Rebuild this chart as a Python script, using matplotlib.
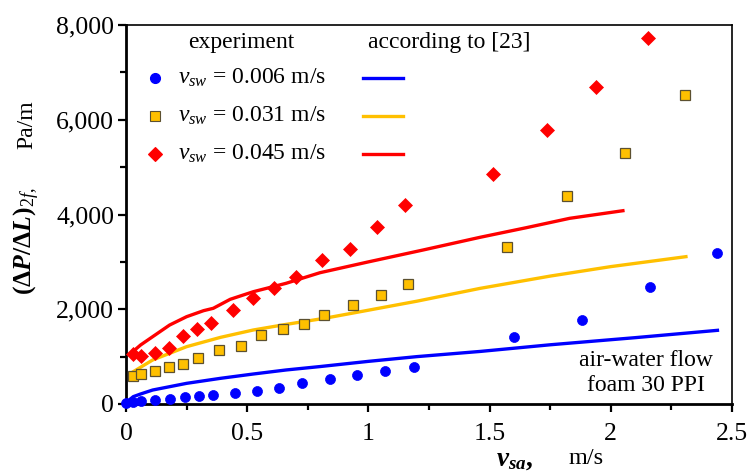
import matplotlib
matplotlib.use("Agg")
import matplotlib.pyplot as plt
from matplotlib.ticker import MultipleLocator, FuncFormatter

plt.rcParams['font.family'] = ['Liberation Serif', 'DejaVu Serif']
plt.rcParams['mathtext.fontset'] = 'custom'
plt.rcParams['mathtext.rm'] = 'Liberation Serif'
plt.rcParams['mathtext.it'] = 'Liberation Serif:italic'
plt.rcParams['mathtext.bf'] = 'Liberation Serif:bold'
plt.rcParams['mathtext.bfit'] = 'Liberation Serif:bold:italic'

# Experimental data: superficial air velocity (m/s) vs. pressure gradient (Pa/m)
exp_v_006 = [0.0, 0.03, 0.06, 0.12, 0.18, 0.245, 0.30, 0.36, 0.45, 0.54, 0.63, 0.725,
             0.84, 0.955, 1.07, 1.19, 1.60, 1.88, 2.16, 2.44]
exp_p_006 = [27, 49, 70, 84, 98, 141, 169, 190, 225, 267, 330, 443,
             528, 612, 703, 788, 1407, 1773, 2469, 3187]

exp_v_031 = [0.03, 0.06, 0.118, 0.177, 0.236, 0.296, 0.382, 0.473, 0.557, 0.646, 0.733,
             0.818, 0.935, 1.052, 1.165, 1.57, 1.82, 2.057, 2.305]
exp_p_031 = [598, 633, 703, 774, 851, 964, 1146, 1231, 1463, 1589, 1688,
             1885, 2089, 2307, 2539, 3307, 4390, 5304, 6522]

exp_v_045 = [0.03, 0.06, 0.118, 0.177, 0.236, 0.293, 0.351, 0.44, 0.525, 0.61, 0.70,
             0.81, 0.924, 1.035, 1.15, 1.513, 1.737, 1.94, 2.155]
exp_p_045 = [1055, 1013, 1083, 1189, 1435, 1583, 1717, 1984, 2230, 2455, 2687,
             3039, 3265, 3736, 4200, 4854, 5790, 6697, 7731]

# Model predictions according to [23]
mod_v_006 = [0.0, 0.03, 0.06, 0.11, 0.25, 0.39, 0.525, 0.66, 0.80, 1.0, 1.2, 1.46, 1.75, 2.1, 2.44]
mod_p_006 = [30, 155, 211, 295, 436, 542, 633, 718, 790, 900, 1000, 1109, 1250, 1400, 1555]

mod_v_031 = [0.03, 0.11, 0.25, 0.39, 0.525, 0.66, 0.82, 1.0, 1.2, 1.46, 1.75, 2.0, 2.31]
mod_p_031 = [682, 929, 1210, 1407, 1562, 1680, 1810, 1980, 2170, 2440, 2700, 2900, 3110]

mod_v_045 = [0.02, 0.06, 0.11, 0.18, 0.25, 0.32, 0.36, 0.43, 0.525, 0.66, 0.80, 1.0,
             1.225, 1.46, 1.65, 1.83, 2.05]
mod_p_045 = [1069, 1245, 1421, 1667, 1843, 1970, 2020, 2210, 2370, 2547, 2771, 3000,
             3250, 3518, 3720, 3919, 4080]

series_labels = ['0.006', '0.031', '0.045']

BLUE = '#0000ff'
GOLD = '#ffc000'
RED = '#ff0000'

fig = plt.figure(figsize=(7.49, 4.72), dpi=100)
ax = fig.add_axes([126 / 749, 68 / 472, 606 / 749, 379 / 472])

lw = 2.4
ax.plot(mod_v_006, mod_p_006, color=BLUE, lw=lw, zorder=2)
ax.plot(mod_v_031, mod_p_031, color=GOLD, lw=lw, zorder=2)
ax.plot(mod_v_045, mod_p_045, color=RED, lw=lw, zorder=2)

ax.plot(exp_v_006, exp_p_006, 'o', color=BLUE, ms=7.2, mec=BLUE, mew=0.5, zorder=3,
        clip_on=False)
ax.plot(exp_v_031, exp_p_031, 's', color=GOLD, ms=7, mec='#5c5030', mew=0.9, zorder=3)
ax.plot(exp_v_045, exp_p_045, 'D', color=RED, ms=7, mec=RED, mew=0.5, zorder=3)

ax.set_xlim(0, 2.5)
ax.set_ylim(0, 8000)
ax.xaxis.set_major_locator(MultipleLocator(0.5))
ax.xaxis.set_minor_locator(MultipleLocator(0.25))
ax.yaxis.set_major_locator(MultipleLocator(2000))
ax.yaxis.set_minor_locator(MultipleLocator(1000))
ax.xaxis.set_major_formatter(FuncFormatter(lambda v, p: f'{v:g}'))
ax.yaxis.set_major_formatter(FuncFormatter(lambda v, p: f'{int(v):,}'))

ax.tick_params(which='both', direction='out', top=False, right=False,
               labelsize=18.5, width=1.6)
ax.tick_params(axis='y', which='both', pad=3)
ax.tick_params(axis='x', which='both', pad=8)
ax.tick_params(which='major', length=5.5)
ax.tick_params(which='minor', length=4)

for side in ('left', 'bottom'):
    ax.spines[side].set_linewidth(2.0)
for side in ('top', 'right'):
    ax.spines[side].set_linewidth(1.2)

# Legend drawn in axes coordinates
tr = ax.transAxes
fs_leg = 17
ax.text(0.19, 0.955, 'experiment', transform=tr, ha='center', va='center', fontsize=fs_leg)
ax.text(0.533, 0.955, 'according to [23]', transform=tr, ha='center', va='center',
        fontsize=fs_leg)
rows = [0.860, 0.760, 0.660]
styles = [('o', BLUE, BLUE, 7.2), ('s', GOLD, '#5c5030', 7), ('D', RED, RED, 7)]
for yrow, lab, (mk, fc, ec, ms) in zip(rows, series_labels, styles):
    ax.plot([0.048], [yrow], mk, color=fc, mec=ec, ms=ms, mew=0.8, transform=tr)
    ax.text(0.086, yrow, r'$\mathit{v}_{\mathit{sw}}$' + f' = {lab} m/s', transform=tr,
            ha='left', va='center', fontsize=fs_leg)
    ax.plot([0.391, 0.457], [yrow, yrow], '-', color=fc, lw=lw, transform=tr)

ax.text(0.858, 0.115, 'air-water flow', transform=tr, ha='center', va='center', fontsize=fs_leg)
ax.text(0.858, 0.05, 'foam 30 PPI', transform=tr, ha='center', va='center', fontsize=fs_leg)

# Axis titles
fig.text(27 / 749, 1 - 241 / 472,
         r'$\mathbf{(\Delta}\mathbfit{P}\mathbf{/\Delta}\mathbfit{L}\mathbf{)}_{\mathit{2f},}$',
         rotation=90, ha='center', va='center', fontsize=18.5)
fig.text(27 / 749, 1 - 125 / 472, 'Pa/m', rotation=90, ha='center', va='center', fontsize=17)
fig.text(515 / 749, 1 - 459 / 472, r'$\mathbfit{v}_{\mathbfit{sa}}\mathbf{,}$',
         ha='center', va='center', fontsize=19.5)
fig.text(586 / 749, 1 - 459 / 472, 'm/s', ha='center', va='center', fontsize=17.5)

fig.savefig('out.png', dpi=100)
